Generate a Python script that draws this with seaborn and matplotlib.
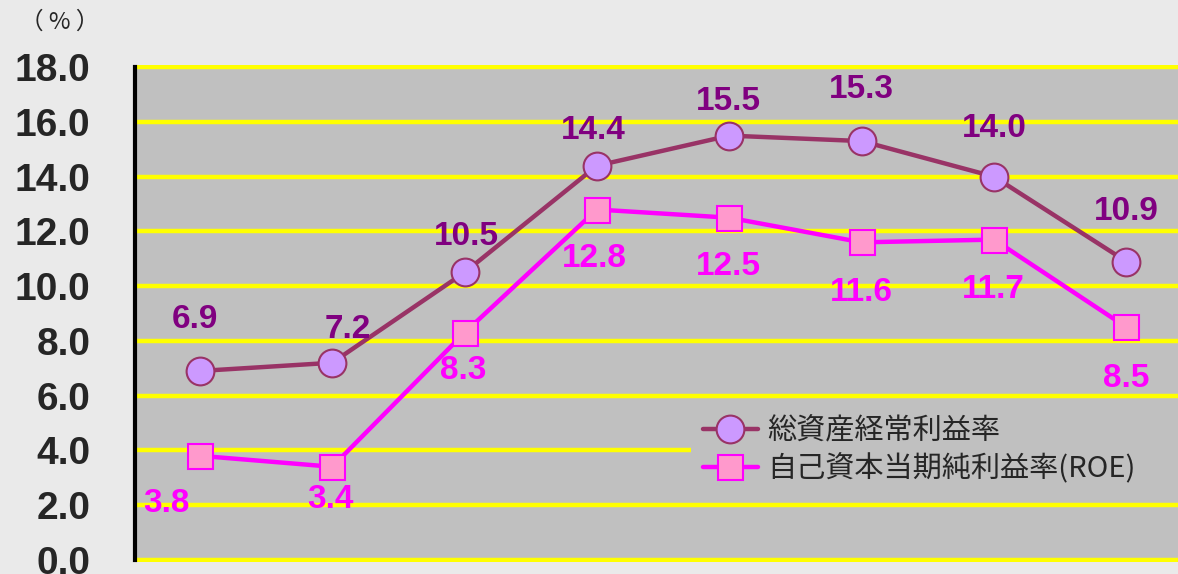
import numpy as np
import matplotlib
matplotlib.use("Agg")
import matplotlib.pyplot as plt
import seaborn as sns

# data
periods = ["1", "2", "3", "4", "5", "6", "7", "8"]
roa = [6.9, 7.2, 10.5, 14.4, 15.5, 15.3, 14.0, 10.9]
roe = [3.8, 3.4, 8.3, 12.8, 12.5, 11.6, 11.7, 8.5]
name_roa = "総資産経常利益率"
name_roe = "自己資本当期純利益率(ROE)"
y_ticks = [0, 2, 4, 6, 8, 10, 12, 14, 16, 18]

# label offsets in pixels (dx, dy), hand placed like the original
roa_off = [(-5, 51), (16, 33), (2, 36), (-4, 35), (-1, 34), (0, 52), (0, 48), (0, 50)]
roe_off = [(-33, -48), (-2, -33), (-1, -38), (-3, -49), (-1, -49), (0, -50), (-1, -50), (0, -51)]

sns.set_style("white")
plt.rcParams['font.family'] = ['Liberation Sans', 'Noto Sans CJK JP', 'DejaVu Sans']

fig = plt.figure(figsize=(11.78, 5.74), dpi=100)
fig.patch.set_facecolor("#eaeaea")
ax = fig.add_axes([135/1178, 1 - 562/574, 1 - 135/1178, 497/574])
ax.set_facecolor("#c0c0c0")

x = np.arange(len(periods))
sns.lineplot(x=x, y=roa, ax=ax, color="#993366", lw=3.2, marker="o", markersize=20,
             markerfacecolor="#cc99ff", markeredgecolor="#993366", markeredgewidth=1.5,
             label=name_roa, zorder=4)
sns.lineplot(x=x, y=roe, ax=ax, color="#ff00ff", lw=3.2, marker="s", markersize=18,
             markerfacecolor="#ff99cc", markeredgecolor="#ff00ff", markeredgewidth=1.5,
             label=name_roe, zorder=4)

for xi, v, (dx, dy) in zip(x, roa, roa_off):
    ax.annotate(f"{v:.1f}", (xi, v), xytext=(dx * 0.72, dy * 0.72), textcoords="offset points",
                ha="center", va="center", fontsize=24, fontweight="bold", color="#800080", zorder=6)
for xi, v, (dx, dy) in zip(x, roe, roe_off):
    ax.annotate(f"{v:.1f}", (xi, v), xytext=(dx * 0.72, dy * 0.72), textcoords="offset points",
                ha="center", va="center", fontsize=24, fontweight="bold", color="#ff00ff", zorder=6)

ax.set_xlim(-0.49, 7.39)
ax.set_ylim(-0.08, 18.08)
ax.set_yticks(y_ticks)
ax.set_yticklabels([f"{t:.1f}" for t in y_ticks], fontsize=28, fontweight="bold")
ax.set_xticks([])
ax.yaxis.grid(True, color="#ffff00", lw=3.2)
ax.set_axisbelow(True)
for s in ["top", "right", "bottom"]:
    ax.spines[s].set_visible(False)
ax.spines["left"].set_color("black")
ax.spines["left"].set_linewidth(3)
ax.spines["left"].set_bounds(0, 18)
ax.tick_params(axis="y", direction="out", length=10, width=3, color="black", pad=22)
ax.set_xlabel("")
ax.set_ylabel("")

leg = ax.legend(loc="center left", bbox_to_anchor=(0.533, 0.135, 0.48, 0.18), mode="expand",
                frameon=True, facecolor="#c0c0c0", edgecolor="none", framealpha=1, fancybox=False,
                prop={"family": "Noto Sans CJK JP", "size": 21}, handlelength=1.9,
                handletextpad=0.3, labelspacing=0.25, borderpad=0.4, borderaxespad=0)
leg.set_zorder(3)

fig.text(20/1178, 1 - 22/574, "（ % ）", fontsize=17, va="center", ha="left",
         family=["Noto Sans CJK JP", "DejaVu Sans"])

fig.savefig("out.png", dpi=100, facecolor=fig.get_facecolor())
